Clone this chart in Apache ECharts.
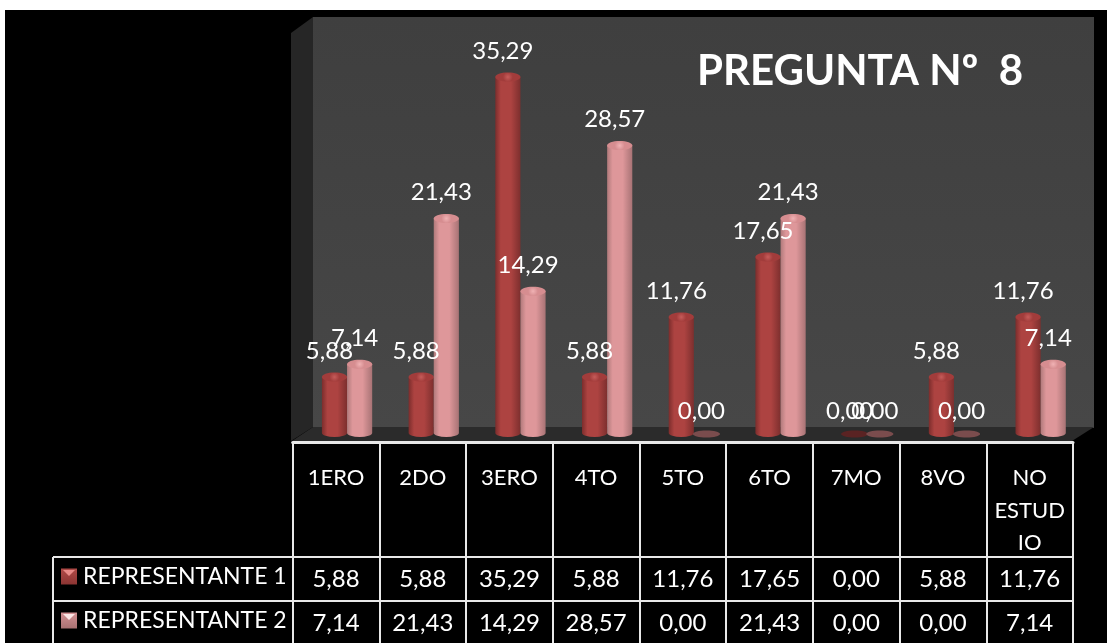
<!DOCTYPE html>
<html><head><meta charset="utf-8">
<style>html,body{margin:0;padding:0;background:#fff}#c{width:1107px;height:643px}</style>
<script src="https://cdn.jsdelivr.net/npm/echarts@6/dist/echarts.min.js"></script>
</head><body><div id="c"></div>
<script>
const categories = ['1ERO','2DO','3ERO','4TO','5TO','6TO','7MO','8VO','NO\nESTUD\nIO'];
const representante1 = [5.88,5.88,35.29,5.88,11.76,17.65,0,5.88,11.76];
const representante2 = [7.14,21.43,14.29,28.57,0,21.43,0,0,7.14];
const seriesNames = ['REPRESENTANTE 1','REPRESENTANTE 2'];
const titleText = 'PREGUNTA Nº  8';

const FONT = 'Lato';
const fmt = v => v.toFixed(2).replace('.',',');
const hGrad = (a,b,c) => ({type:'linear',x:0,y:0,x2:1,y2:0,colorStops:[
  {offset:0,color:a},{offset:.22,color:b},{offset:.62,color:b},{offset:1,color:c}]});
const rGrad = (a,b) => ({type:'radial',x:.5,y:.5,r:.55,colorStops:[{offset:0,color:a},{offset:1,color:b}]});
const vGrad = (a,b) => ({type:'linear',x:0,y:0,x2:0,y2:1,colorStops:[{offset:0,color:a},{offset:1,color:b}]});
const palette = [
  {body:hGrad('#7c2d2c','#ad4341','#7d2f2e'),top:rGrad('#c65c5a','#a23c3b'),flat:'#5a2323',key:vGrad('#b04a47','#8c3533')},
  {body:hGrad('#b07a7b','#de979a','#a87375'),top:rGrad('#f0b2b4','#d68d90'),flat:'#7a4c4d',key:vGrad('#d49194','#a87172')}
];
function cyl(idx){
  return function(params,api){
    const cat=api.value(0), val=api.value(1);
    const base=api.coord([cat,0]), topP=api.coord([cat,val]);
    const band=api.size([1,0])[0], w=band*0.29, rx=w/2;
    const cx=base[0]+(idx===0?-w/2:w/2), y0=base[1]-4, y1=topP[1];
    const p=palette[idx], kids=[];
    if(val>0){
      kids.push({type:'path',z2:idx*2+1,shape:{pathData:
        `M${cx-rx} ${y1} L${cx-rx} ${y0} A${rx} 4 0 0 0 ${cx+rx} ${y0} L${cx+rx} ${y1} Z`},
        style:{fill:p.body}});
      kids.push({type:'ellipse',z2:idx*2+2,shape:{cx:cx,cy:y1,rx:rx,ry:4.5},style:{fill:p.top}});
    }else{
      kids.push({type:'ellipse',z2:idx*2+1,shape:{cx:cx,cy:y0+1,rx:rx+1,ry:3.5},style:{fill:p.flat}});
    }
    kids.push({type:'text',z2:20,style:{text:fmt(val),x:cx-5,y:y1-26,align:'center',verticalAlign:'middle',
      fill:'#fff',font:'24px '+FONT}});
    return {type:'group',children:kids};
  };
}
const L=292.7, colW=86.7, tableLeft=53, rowYs=[557,601], rowsBottom=643, tableRight=L+9*colW;
const graphics=[
  {type:'rect',z:-10,shape:{x:5,y:10,width:1102,height:633},style:{fill:'#000'}},
  {type:'polygon',z:-9,shape:{points:[[291,33],[313,17],[313,427],[291,441]]},style:{fill:'#262626'}},
  {type:'rect',z:-9,shape:{x:313,y:17,width:781,height:411},style:{fill:vGrad('#3f3f3f','#474747')}},
  {type:'polygon',z:-9,shape:{points:[[292,441],[313,427],[1094,427],[1072,441]]},style:{fill:'#2b2b2b'}},
  {type:'text',z:5,style:{text:titleText,x:697,y:71,verticalAlign:'middle',fill:'#fff',font:'bold 42px '+FONT}}
];
const line=(x1,y1,x2,y2)=>({type:'line',z:6,shape:{x1,y1,x2,y2},style:{stroke:'#e8e8e8',lineWidth:2}});
rowYs.forEach(y=>graphics.push(line(tableLeft,y,tableRight,y)));
graphics.push(line(tableLeft,rowYs[0],tableLeft,rowsBottom));
[representante1,representante2].forEach((arr,r)=>{
  arr.forEach((v,i)=>graphics.push({type:'text',z:7,style:{text:fmt(v),x:L+colW*(i+.5),y:rowYs[r]+22,
    align:'center',verticalAlign:'middle',fill:'#fff',font:'24px '+FONT}}));
  const ky=569+r*44;
  graphics.push({type:'polygon',z:20,shape:{points:[[63,ky+1],[75,ky+1],[69,ky+7]]},style:{fill:r?'#fbe6e6':'#e98b88'}});
});
const chart=echarts.init(document.getElementById('c'));
chart.setOption({
  animation:false,
  backgroundColor:'#fff',
  textStyle:{fontFamily:FONT},
  legend:{left:61,top:565,padding:0,orient:'vertical',itemWidth:16,itemHeight:16,itemGap:21,icon:'rect',
    selectedMode:false,textStyle:{color:'#fff',fontSize:23,fontFamily:FONT,padding:[1,0,0,1]},data:seriesNames},
  grid:[
    {left:303.7,width:780.3,top:29,height:408},
    {left:L,width:colW*9,top:441,height:1}
  ],
  xAxis:[
    {gridIndex:0,type:'category',data:categories,axisLine:{show:false},axisTick:{show:false},axisLabel:{show:false}},
    {gridIndex:1,type:'category',data:categories,position:'bottom',
      axisLine:{show:true,lineStyle:{color:'#e8e8e8',width:3}},
      axisTick:{show:true,length:201,lineStyle:{color:'#e8e8e8',width:2}},
      axisLabel:{color:'#fff',fontSize:22,fontFamily:FONT,lineHeight:32.5,margin:20,interval:0,verticalAlign:'top'}}
  ],
  yAxis:[
    {gridIndex:0,type:'value',min:0,max:40,show:false},
    {gridIndex:1,type:'value',min:0,max:1,show:false}
  ],
  graphic:graphics,
  series:[representante1,representante2].map((arr,idx)=>({
    type:'custom',name:seriesNames[idx],xAxisIndex:0,yAxisIndex:0,z:2,
    itemStyle:{color:palette[idx].key},
    renderItem:cyl(idx),encode:{x:0,y:1},
    data:arr.map((v,i)=>[i,v])
  }))
});
</script></body></html>
